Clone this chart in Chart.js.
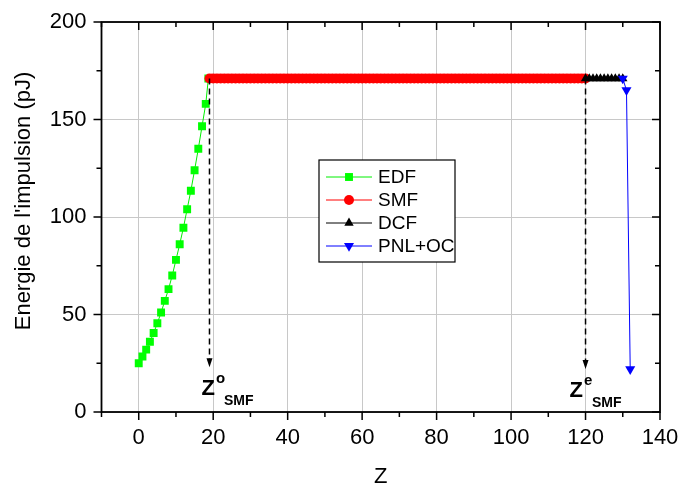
<!DOCTYPE html>
<html>
<head>
<meta charset="utf-8">
<script src="https://cdn.jsdelivr.net/npm/chart.js@4.4.0/dist/chart.umd.min.js"></script>
<style>
    html, body { margin: 0; padding: 0; background: #ffffff; }
    #wrap { width: 680px; height: 485px; }
</style>
</head>
<body>
<div id="wrap"><canvas id="energyChart" width="680" height="485"></canvas></div>
<script>
// Pulse energy (pJ) along the propagation distance Z, per fibre section
const edfZ = [0, 1, 2, 3, 4, 5, 6, 7, 8, 9, 10, 11, 12, 13, 14, 15, 16, 17, 18, 18.7];
const edfE = [25, 28.5, 32, 36, 40.5, 45.5, 51, 57, 63, 70, 78, 86, 94.5, 104, 113.5, 124, 135, 146.5, 158, 171];

const smfZ = [19, 20, 21, 22, 23, 24, 25, 26, 27, 28, 29, 30, 31, 32, 33, 34, 35, 36, 37, 38, 39,
    40, 41, 42, 43, 44, 45, 46, 47, 48, 49, 50, 51, 52, 53, 54, 55, 56, 57, 58, 59,
    60, 61, 62, 63, 64, 65, 66, 67, 68, 69, 70, 71, 72, 73, 74, 75, 76, 77, 78, 79,
    80, 81, 82, 83, 84, 85, 86, 87, 88, 89, 90, 91, 92, 93, 94, 95, 96, 97, 98, 99,
    100, 101, 102, 103, 104, 105, 106, 107, 108, 109, 110, 111, 112, 113, 114, 115, 116, 117, 118, 119, 120];
const smfE = [171, 171, 171, 171, 171, 171, 171, 171, 171, 171, 171, 171, 171, 171, 171, 171, 171, 171, 171, 171, 171,
    171, 171, 171, 171, 171, 171, 171, 171, 171, 171, 171, 171, 171, 171, 171, 171, 171, 171, 171, 171,
    171, 171, 171, 171, 171, 171, 171, 171, 171, 171, 171, 171, 171, 171, 171, 171, 171, 171, 171, 171,
    171, 171, 171, 171, 171, 171, 171, 171, 171, 171, 171, 171, 171, 171, 171, 171, 171, 171, 171, 171,
    171, 171, 171, 171, 171, 171, 171, 171, 171, 171, 171, 171, 171, 171, 171, 171, 171, 171, 171, 171, 171];

const dcfZ = [120, 121, 122, 123, 124, 125, 126, 127, 128, 129, 130];
const dcfE = [171, 171, 171, 171, 171, 171, 171, 171, 171, 171, 171];

const pnlZ = [130, 131, 132];
const pnlE = [171, 165, 22];

// dashed arrows marking the start and end of the SMF section
const arrowZ = [19, 120];
const arrowFrom = [171, 171];
const arrowTo = [23, 22];
const arrowSup = ['o', 'e'];

const seriesNames = ['EDF', 'SMF', 'DCF', 'PNL+OC'];
const xTitle = 'Z';
const yTitle = "Energie de l'impulsion (pJ)";

const FONT = "'Liberation Sans', Arial, sans-serif";

function pts(xs, ys) {
    return xs.map((v, i) => ({ x: v, y: ys[i] }));
}

// Ticks and box, like the Origin frame
const frameAndTicks = {
    id: 'frameAndTicks',
    afterDatasetsDraw(chart) {
        const { ctx, chartArea: a, scales: { x, y } } = chart;
        ctx.save();
        ctx.strokeStyle = '#000';
        ctx.lineWidth = 1.5;
        ctx.beginPath();
        x.ticks.forEach(t => {
            const px = x.getPixelForValue(t.value);
            const len = t.value % 20 === 0 ? 8 : 5;
            ctx.moveTo(px, a.bottom); ctx.lineTo(px, a.bottom + len);
            ctx.moveTo(px, a.top); ctx.lineTo(px, a.top + len);
        });
        y.ticks.forEach(t => {
            const py = y.getPixelForValue(t.value);
            const len = t.value % 50 === 0 ? 8 : 5;
            ctx.moveTo(a.left, py); ctx.lineTo(a.left - len, py);
            ctx.moveTo(a.right, py); ctx.lineTo(a.right - len, py);
        });
        ctx.stroke();
        ctx.lineWidth = 1.8;
        ctx.strokeRect(a.left, a.top, a.right - a.left, a.bottom - a.top);

        // axis titles
        ctx.fillStyle = '#000';
        ctx.font = '22px ' + FONT;
        ctx.textAlign = 'center';
        ctx.textBaseline = 'alphabetic';
        ctx.fillText(xTitle, (a.left + a.right) / 2, 483);
        ctx.translate(30, 201);
        ctx.rotate(-Math.PI / 2);
        ctx.fillText(yTitle, 0, 0);
        ctx.restore();
    }
};

// Dashed arrows with the Z labels under them
const labelShift = [-8, -16];
const sectionArrows = {
    id: 'sectionArrows',
    afterDatasetsDraw(chart) {
        const { ctx, scales: { x, y } } = chart;
        ctx.save();
        arrowZ.forEach((z, i) => {
            const px = x.getPixelForValue(z);
            const y0 = y.getPixelForValue(arrowFrom[i]);
            const y1 = y.getPixelForValue(arrowTo[i]);
            ctx.strokeStyle = '#000';
            ctx.lineWidth = 1.5;
            ctx.setLineDash([6, 4]);
            ctx.beginPath();
            ctx.moveTo(px, y0);
            ctx.lineTo(px, y1 - 7);
            ctx.stroke();
            ctx.setLineDash([]);
            ctx.fillStyle = '#000';
            ctx.beginPath();
            ctx.moveTo(px, y1);
            ctx.lineTo(px - 3, y1 - 9);
            ctx.lineTo(px + 3, y1 - 9);
            ctx.closePath();
            ctx.fill();

            const lx = px + labelShift[i];
            const base = y1 + 28;
            ctx.textAlign = 'left';
            ctx.textBaseline = 'alphabetic';
            ctx.font = 'bold 22px ' + FONT;
            ctx.fillText('Z', lx, base);
            const zw = ctx.measureText('Z').width;
            ctx.font = 'bold 15px ' + FONT;
            ctx.fillText(arrowSup[i], lx + zw + 1, base - 12);
            ctx.font = 'bold 14px ' + FONT;
            ctx.fillText('SMF', lx + zw + 9, base + 10);
        });
        ctx.restore();
    }
};

// Boxed legend inside the plot
const boxLegend = {
    id: 'boxLegend',
    afterDraw(chart) {
        const { ctx } = chart;
        const left = 319, top = 160, w = 136, h = 102;
        ctx.save();
        ctx.fillStyle = '#fff';
        ctx.fillRect(left, top, w, h);
        ctx.strokeStyle = '#000';
        ctx.lineWidth = 1.2;
        ctx.strokeRect(left, top, w, h);
        chart.data.datasets.forEach((ds, i) => {
            const cy = top + 17 + i * 23;
            ctx.strokeStyle = ds.borderColor;
            ctx.lineWidth = 1;
            ctx.beginPath();
            ctx.moveTo(326, cy);
            ctx.lineTo(372, cy);
            ctx.stroke();
            ctx.fillStyle = ds.pointBackgroundColor;
            ctx.strokeStyle = ds.pointBackgroundColor;
            Chart.helpers.drawPoint(ctx, {
                pointStyle: ds.pointStyle,
                radius: ds.pointRadius,
                rotation: ds.pointRotation || 0,
                borderWidth: 0
            }, 349, cy);
            ctx.fillStyle = '#000';
            ctx.font = '19px ' + FONT;
            ctx.textAlign = 'left';
            ctx.textBaseline = 'middle';
            ctx.fillText(ds.label, 378, cy + 1);
        });
        ctx.restore();
    }
};

const ctx = document.getElementById('energyChart').getContext('2d');
const energyChart = new Chart(ctx, {
    type: 'scatter',
    data: {
        datasets: [{
            label: seriesNames[0],
            data: pts(edfZ, edfE),
            showLine: true,
            borderColor: '#00ee00',
            borderWidth: 1,
            pointStyle: 'rect',
            pointRadius: 5.6,
            pointBackgroundColor: '#00ff00',
            pointBorderWidth: 0,
            order: 4
        }, {
            label: seriesNames[1],
            data: pts(smfZ, smfE),
            showLine: true,
            borderColor: '#ff0000',
            borderWidth: 1,
            pointStyle: 'circle',
            pointRadius: 5,
            pointBackgroundColor: '#ff0000',
            pointBorderWidth: 0,
            order: 3
        }, {
            label: seriesNames[2],
            data: pts(dcfZ, dcfE),
            showLine: true,
            borderColor: '#000000',
            borderWidth: 1,
            pointStyle: 'triangle',
            pointRadius: 5.4,
            pointBackgroundColor: '#000000',
            pointBorderWidth: 0,
            order: 2
        }, {
            label: seriesNames[3],
            data: pts(pnlZ, pnlE),
            showLine: true,
            borderColor: '#0000ff',
            borderWidth: 1,
            pointStyle: 'triangle',
            pointRotation: 180,
            pointRadius: 5.8,
            pointBackgroundColor: '#0000ff',
            pointBorderWidth: 0,
            order: 1
        }]
    },
    options: {
        responsive: false,
        animation: false,
        devicePixelRatio: 1,
        layout: { padding: { left: 0, top: 22, right: 20, bottom: 0 } },
        plugins: {
            legend: { display: false },
            tooltip: { enabled: false }
        },
        scales: {
            x: {
                type: 'linear',
                min: -10,
                max: 140,
                afterFit(scale) {
                    scale.height = 73;
                    scale.paddingLeft = 0;
                    scale.paddingRight = 0;
                },
                border: { display: false },
                grid: {
                    drawTicks: false,
                    lineWidth: 1,
                    color: c => (c.tick && c.tick.value % 20 === 0) ? '#c8c8c8' : 'rgba(0,0,0,0)'
                },
                ticks: {
                    stepSize: 10,
                    autoSkip: false,
                    maxRotation: 0,
                    padding: 13,
                    color: '#000',
                    font: { family: FONT, size: 22 },
                    callback: v => (v % 20 === 0 ? v : '')
                }
            },
            y: {
                type: 'linear',
                min: 0,
                max: 200,
                afterFit(scale) {
                    scale.width = 101.5;
                    scale.paddingTop = 0;
                    scale.paddingBottom = 0;
                },
                border: { display: false },
                grid: {
                    drawTicks: false,
                    lineWidth: 1,
                    color: c => (c.tick && c.tick.value % 50 === 0) ? '#c8c8c8' : 'rgba(0,0,0,0)'
                },
                ticks: {
                    stepSize: 25,
                    autoSkip: false,
                    padding: 15,
                    color: '#000',
                    font: { family: FONT, size: 22 },
                    callback: v => (v % 50 === 0 ? v : '')
                }
            }
        }
    },
    plugins: [frameAndTicks, sectionArrows, boxLegend]
});
</script>
</body>
</html>
